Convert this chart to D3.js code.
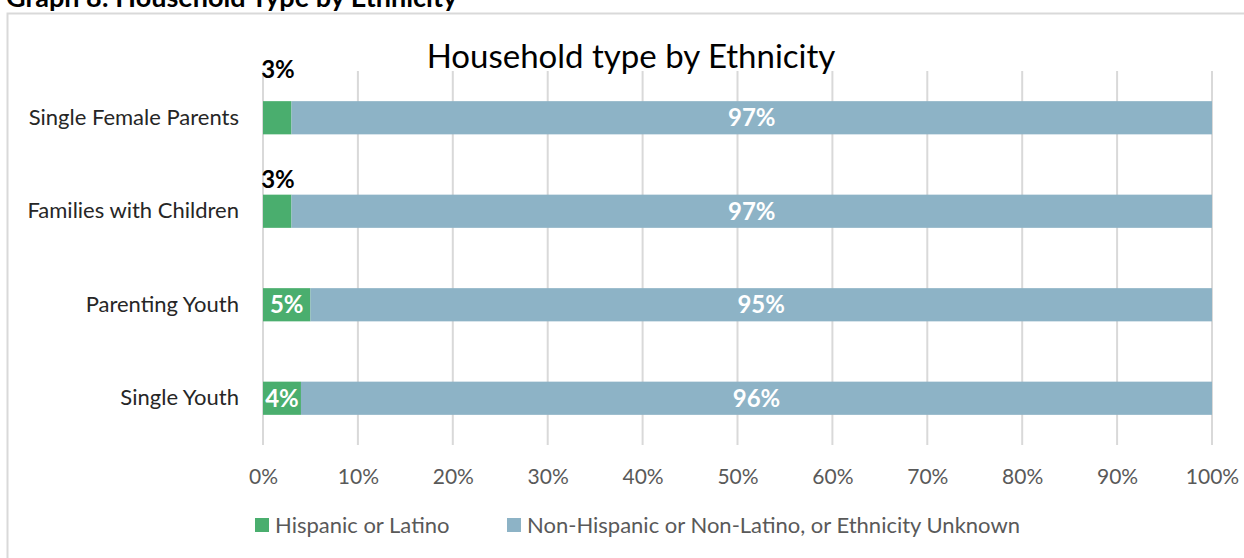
<!DOCTYPE html>
<html>
<head>
<meta charset="utf-8">
<script src="https://cdn.jsdelivr.net/npm/d3@7"></script>
<style>
  html, body { margin: 0; padding: 0; background: #fff; }
  svg { display: block; font-family: Lato, "Open Sans", sans-serif; }
</style>
</head>
<body>
<svg id="chart" width="1244" height="558"></svg>
<script>
// Household type by ethnicity, shares in percent
const categories = ["Single Female Parents", "Families with Children", "Parenting Youth", "Single Youth"];
const hispanic = [3, 3, 5, 4];
const nonHispanic = [97, 97, 95, 96];
const seriesNames = ["Hispanic or Latino", "Non-Hispanic or Non-Latino, or Ethnicity Unknown"];
const tickValues = [0, 10, 20, 30, 40, 50, 60, 70, 80, 90, 100];

const colors = ["#4aae6e", "#8db3c6"];

const svg = d3.select("#chart");

// Section heading above the chart frame
svg.append("text")
  .attr("x", 6).attr("y", 7)
  .attr("font-size", 27).attr("font-weight", "bold").attr("fill", "#000")
  .text("Graph 8: Household Type by Ethnicity");

// Chart frame
svg.append("rect")
  .attr("x", 7.5).attr("y", 13.5).attr("width", 1250).attr("height", 560)
  .attr("fill", "none").attr("stroke", "#d9d9d9").attr("stroke-width", 2);

const plot = { left: 263, right: 1212, top: 71, bottom: 445 };

const x = d3.scaleLinear().domain([0, 100]).range([plot.left, plot.right]);
const y = d3.scaleBand().domain(categories).range([plot.top, plot.bottom]).paddingInner(0.645).paddingOuter(0.3225);

// Vertical gridlines
svg.append("g").selectAll("line").data(tickValues).join("line")
  .attr("x1", d => x(d)).attr("x2", d => x(d))
  .attr("y1", plot.top).attr("y2", plot.bottom)
  .attr("stroke", "#d9d9d9").attr("stroke-width", 2);

// X axis tick labels
const xAxis = d3.axisBottom(x).tickValues(tickValues).tickSize(0).tickPadding(24).tickFormat(d => d + "%");
const gx = svg.append("g").attr("transform", `translate(0,${plot.bottom})`).call(xAxis);
gx.select(".domain").remove();
gx.selectAll("text").attr("font-size", 21).attr("fill", "#595959").attr("font-family", "Lato, sans-serif");

// Y axis category labels
const yAxis = d3.axisLeft(y).tickSize(0).tickPadding(24);
const gy = svg.append("g").attr("transform", `translate(${plot.left},0)`).call(yAxis);
gy.select(".domain").remove();
gy.selectAll("text").attr("font-size", 22).attr("fill", "#262626").attr("font-family", "Lato, sans-serif");

// Stacked bars
const rows = categories.map((c, i) => ({ cat: c, vals: [hispanic[i], nonHispanic[i]] }));
const segs = [];
rows.forEach(r => {
  let acc = 0;
  r.vals.forEach((v, k) => { segs.push({ cat: r.cat, k, v, x0: acc, x1: acc + v }); acc += v; });
});

svg.append("g").selectAll("rect").data(segs).join("rect")
  .attr("x", d => x(d.x0)).attr("width", d => x(d.x1) - x(d.x0))
  .attr("y", d => y(d.cat)).attr("height", y.bandwidth())
  .attr("fill", d => colors[d.k]);

// Value labels: segments too narrow for their label get it above the bar, in black
const aboveGap = { "Single Female Parents": 23, "Families with Children": 7 };
const labels = svg.append("g").attr("font-weight", "bold").attr("font-size", 24);
segs.forEach(d => {
  const w = x(d.x1) - x(d.x0);
  const inside = w >= 35;
  const t = labels.append("text")
    .attr("text-anchor", "middle")
    .attr("fill", inside ? "#fff" : "#000")
    .text(d.v + "%");
  if (inside) {
    t.attr("x", (x(d.x0) + x(d.x1)) / 2).attr("y", y(d.cat) + y.bandwidth() / 2).attr("dy", "0.36em");
  } else {
    t.attr("x", x(d.x0) + 15).attr("y", y(d.cat) - (aboveGap[d.cat] || 8));
  }
});

// Chart title
svg.append("text")
  .attr("x", 631).attr("y", 68)
  .attr("text-anchor", "middle")
  .attr("font-size", 33).attr("fill", "#000")
  .text("Household type by Ethnicity");

// Legend
const legend = svg.append("g").attr("font-size", 22).attr("fill", "#595959");
const legendX = [255, 507];
seriesNames.forEach((n, i) => {
  legend.append("rect").attr("x", legendX[i]).attr("y", 518).attr("width", 14).attr("height", 14).attr("fill", colors[i]);
  legend.append("text").attr("x", legendX[i] + 20).attr("y", 525).attr("dy", "0.35em").text(n);
});
</script>
</body>
</html>
